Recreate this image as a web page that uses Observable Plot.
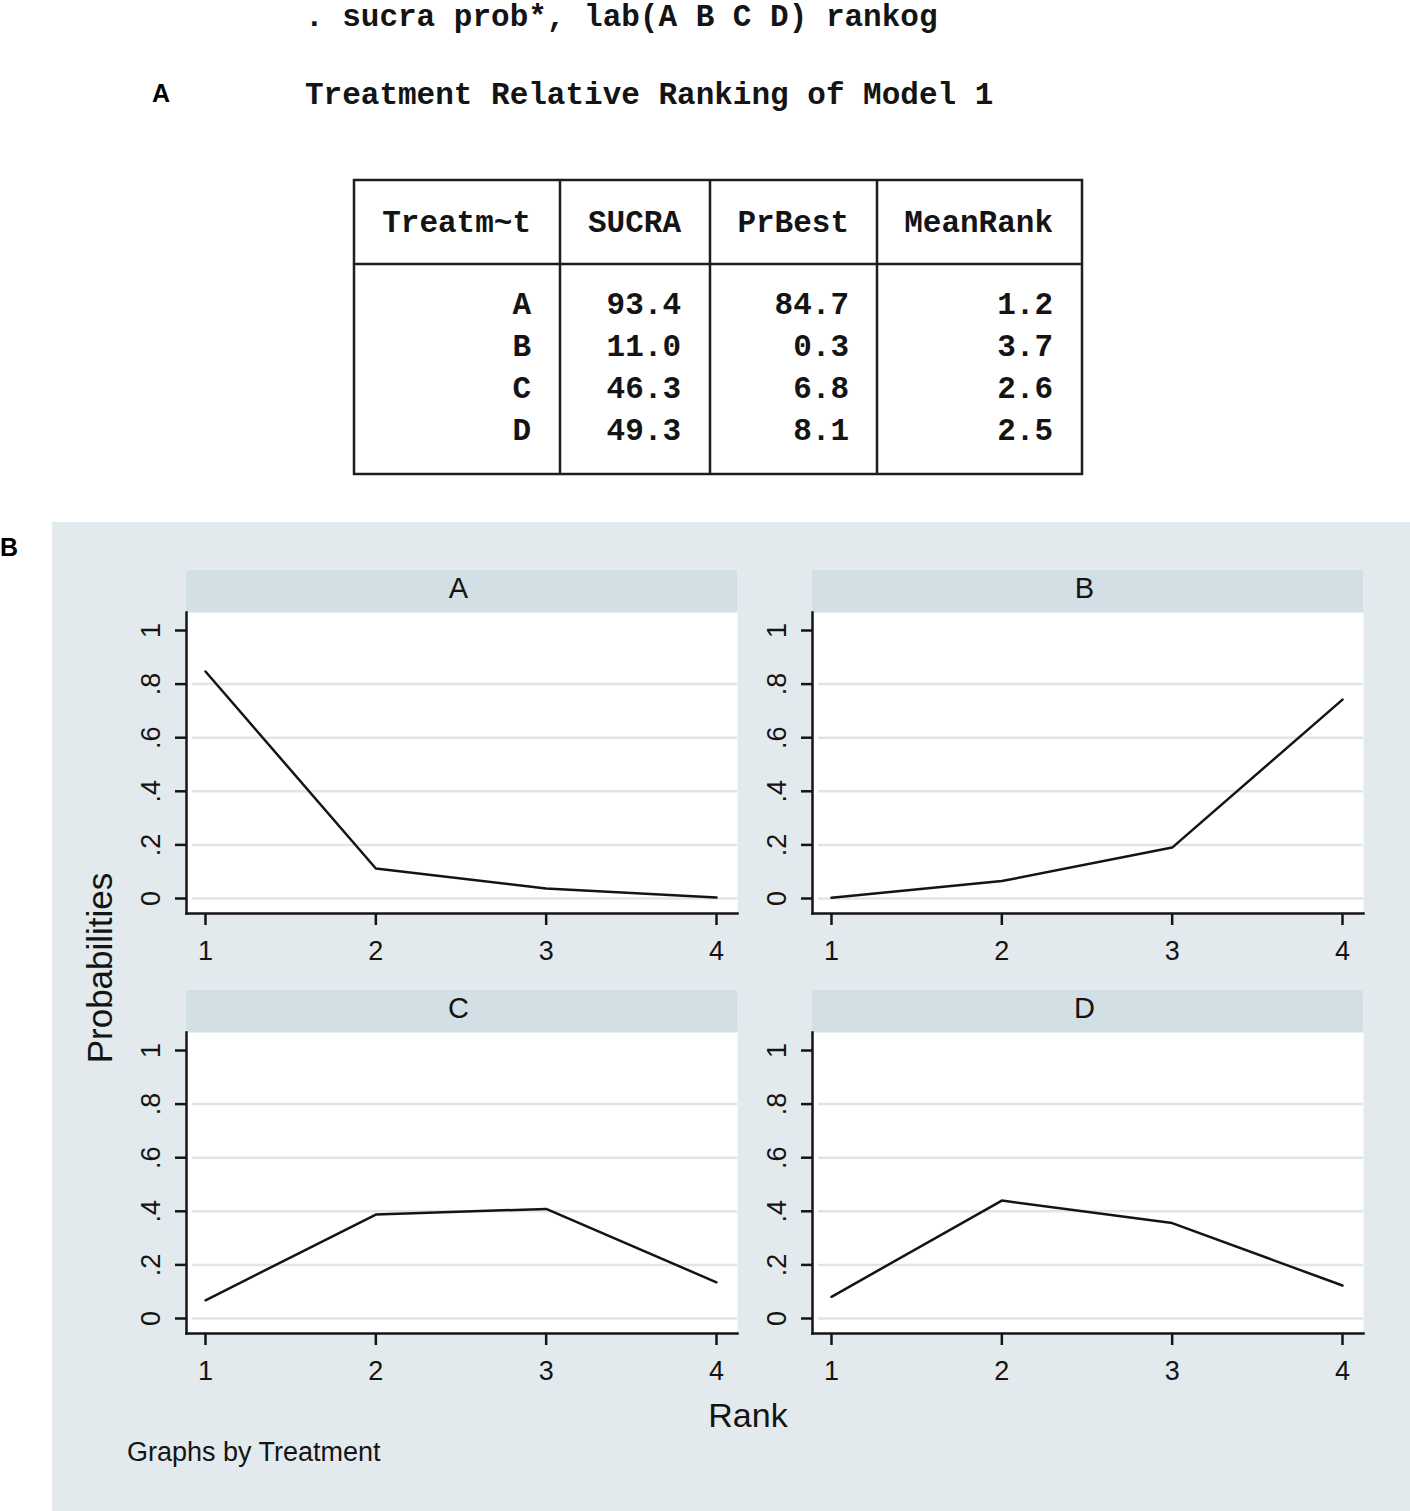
<!DOCTYPE html>
<html>
<head>
<meta charset="utf-8">
<script src="https://cdn.jsdelivr.net/npm/d3@7"></script>
<script src="https://cdn.jsdelivr.net/npm/@observablehq/plot@0.6"></script>
<style>
  html, body { margin: 0; padding: 0; background: #ffffff; }
  #page { position: relative; width: 1410px; height: 1511px; overflow: hidden; background: #ffffff; }
  #page svg.plot { position: absolute; }
</style>
</head>
<body>
<div id="page"></div>
<script>
// ---------- data ----------
const commandLine = ". sucra prob*, lab(A B C D) rankog";
const tableTitle = "Treatment Relative Ranking of Model 1";
const tableHeaders = ["Treatm~t", "SUCRA", "PrBest", "MeanRank"];
const treatments = ["A", "B", "C", "D"];
const sucra = ["93.4", "11.0", "46.3", "49.3"];
const prBest = ["84.7", "0.3", "6.8", "8.1"];
const meanRank = ["1.2", "3.7", "2.6", "2.5"];

const ranks = [1, 2, 3, 4];
const probA = [0.847, 0.112, 0.037, 0.004];
const probB = [0.003, 0.065, 0.190, 0.742];
const probC = [0.068, 0.388, 0.409, 0.135];
const probD = [0.081, 0.440, 0.356, 0.123];
const probsByTreatment = [probA, probB, probC, probD];

const xTicks = [1, 2, 3, 4];
const yTicks = [0, 0.2, 0.4, 0.6, 0.8, 1];
const yGridTicks = [0, 0.2, 0.4, 0.6, 0.8];
const yTickLabels = ["0", ".2", ".4", ".6", ".8", "1"];

const yTitle = "Probabilities";
const xTitle = "Rank";
const byNote = "Graphs by Treatment";
const panelLetters = ["A", "B"];

// ---------- styles ----------
const mono = "'Liberation Mono', 'Courier New', monospace";
const sans = "'Liberation Sans', Arial, Helvetica, sans-serif";
const ink = "#141414";
const bgColor = "#e2eaed";
const stripColor = "#d2e0e5";
const gridColor = "#dde6ea";

const page = d3.select("#page");
const svg = page.append("svg")
  .attr("width", 1410).attr("height", 1511)
  .style("position", "absolute").style("left", "0px").style("top", "0px");

// ---------- Part A: Stata output ----------
svg.append("text").attr("x", 305).attr("y", 26)
  .attr("font-family", mono).attr("font-weight", "bold").attr("font-size", 31)
  .attr("fill", ink).style("white-space", "pre")
  .text(commandLine);

svg.append("text").attr("x", 152).attr("y", 102)
  .attr("font-family", sans).attr("font-weight", "bold").attr("font-size", 25)
  .attr("fill", "#000").text(panelLetters[0]);

svg.append("text").attr("x", 305).attr("y", 104)
  .attr("font-family", mono).attr("font-weight", "bold").attr("font-size", 31)
  .attr("fill", ink).style("white-space", "pre")
  .text(tableTitle);

// table frame
const tb = { x0: 354, x1: 1082, y0: 180, y1: 474, hy: 264, cols: [560, 710, 877] };
const tg = svg.append("g").attr("stroke", "#1e1e1e").attr("stroke-width", 2.5).attr("fill", "none");
tg.append("rect").attr("x", tb.x0).attr("y", tb.y0).attr("width", tb.x1 - tb.x0).attr("height", tb.y1 - tb.y0);
tg.append("line").attr("x1", tb.x0).attr("x2", tb.x1).attr("y1", tb.hy).attr("y2", tb.hy);
tb.cols.forEach(c => tg.append("line").attr("x1", c).attr("x2", c).attr("y1", tb.y0).attr("y2", tb.y1));

const rightEdges = [531, 681, 849, 1053];
const headerBaseline = 232;
const rowBaselines = [314, 356, 398, 440];
const tt = svg.append("g").attr("font-family", mono).attr("font-weight", "bold")
  .attr("font-size", 31).attr("fill", ink).attr("text-anchor", "end");
tableHeaders.forEach((h, i) => tt.append("text").attr("x", rightEdges[i]).attr("y", headerBaseline).text(h));
treatments.forEach((t, r) => {
  [t, sucra[r], prBest[r], meanRank[r]].forEach((v, i) =>
    tt.append("text").attr("x", rightEdges[i]).attr("y", rowBaselines[r]).text(v));
});

// ---------- Part B: background, strips, titles ----------
svg.append("rect").attr("x", 52).attr("y", 522).attr("width", 1358).attr("height", 989).attr("fill", bgColor);

svg.append("text").attr("x", 0).attr("y", 556)
  .attr("font-family", sans).attr("font-weight", "bold").attr("font-size", 25)
  .attr("fill", "#000").text(panelLetters[1]);

const panelLayout = [
  { left: 120, top: 612 },
  { left: 746, top: 612 },
  { left: 120, top: 1032 },
  { left: 746, top: 1032 }
];
const ML = 66, MR = 5, MB = 62, frameW = 551, frameH = 301, stripH = 42;

panelLayout.forEach((p, i) => {
  const fx = p.left + ML;
  svg.append("rect").attr("x", fx).attr("y", p.top - stripH).attr("width", frameW).attr("height", stripH + 2)
    .attr("rx", 3).attr("fill", stripColor);
  svg.append("text").attr("x", fx + frameW / 2 - 3).attr("y", p.top - stripH / 2 + 7)
    .attr("text-anchor", "middle").attr("font-family", sans).attr("font-size", 29)
    .attr("fill", ink).text(treatments[i]);
});

svg.append("text")
  .attr("transform", "translate(112,968) rotate(-90)")
  .attr("text-anchor", "middle").attr("font-family", sans).attr("font-size", 35)
  .attr("fill", ink).text(yTitle);

svg.append("text").attr("x", 748).attr("y", 1427)
  .attr("text-anchor", "middle").attr("font-family", sans).attr("font-size", 34)
  .attr("fill", ink).text(xTitle);

svg.append("text").attr("x", 127).attr("y", 1461)
  .attr("font-family", sans).attr("font-size", 27)
  .attr("fill", ink).text(byNote);

// ---------- Part B: the four panels with Observable Plot ----------
function makePanel(probs) {
  const data = ranks.map((r, k) => ({ rank: r, prob: probs[k] }));
  return Plot.plot({
    width: ML + frameW + MR,
    height: frameH + MB,
    marginLeft: ML,
    marginRight: MR,
    marginTop: 0,
    marginBottom: MB,
    style: { background: "transparent", overflow: "visible", fontFamily: sans, fontSize: "27px", color: ink },
    x: { domain: [1, 4], insetLeft: 19, insetRight: 21, label: null },
    y: { domain: [0, 1], insetTop: 18, insetBottom: 15, label: null },
    marks: [
      Plot.frame({ fill: "white", stroke: "none" }),
      Plot.gridY(yGridTicks, { stroke: gridColor, strokeOpacity: 1, strokeWidth: 2.5, insetLeft: 6 }),
      Plot.line(data, { x: "rank", y: "prob", stroke: ink, strokeWidth: 2.5 }),
      Plot.frame({ anchor: "left", stroke: ink, strokeWidth: 2.5 }),
      Plot.frame({ anchor: "bottom", stroke: ink, strokeWidth: 2.5 }),
      Plot.axisX({ ticks: xTicks, tickSize: 12, tickPadding: 15, label: null,
        tickFormat: d => String(d), strokeWidth: 2.5 }),
      Plot.axisY({ ticks: yTicks, tickSize: 11, tickPadding: 16, tickRotate: -90, label: null,
        tickFormat: d => yTickLabels[yTicks.indexOf(d)], strokeWidth: 2.5 })
    ]
  });
}

panelLayout.forEach((p, i) => {
  const chart = makePanel(probsByTreatment[i]);
  chart.classList.add("plot");
  chart.style.position = "absolute";
  chart.style.left = p.left + "px";
  chart.style.top = p.top + "px";
  document.getElementById("page").appendChild(chart);
});
</script>
</body>
</html>
